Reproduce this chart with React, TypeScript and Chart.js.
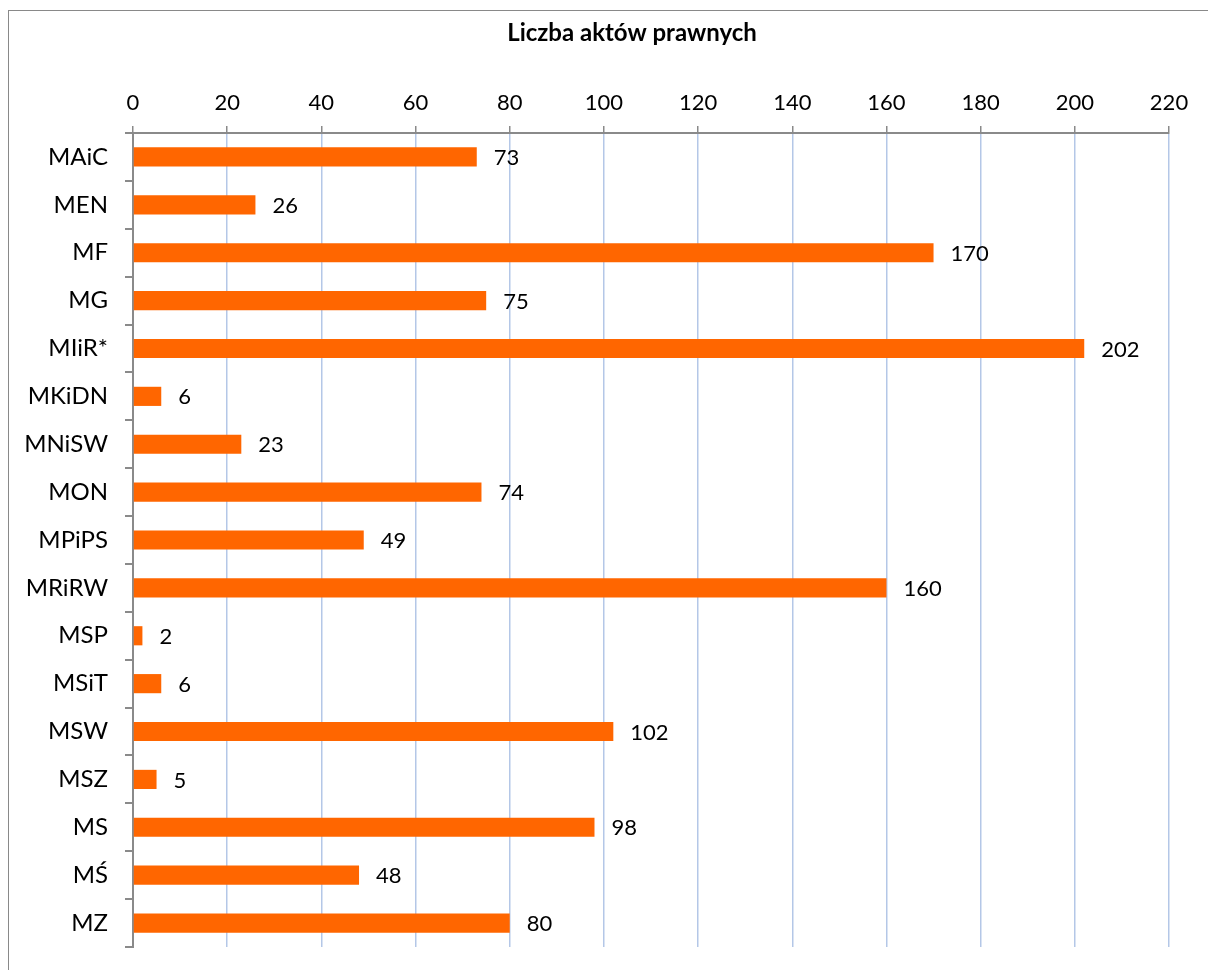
import React, { useEffect, useRef } from "react";
import { Chart, registerables } from "chart.js";

Chart.register(...registerables);

const TITLE = "Liczba aktów prawnych";
const CATEGORIES = ["MAiC", "MEN", "MF", "MG", "MIiR*", "MKiDN", "MNiSW", "MON", "MPiPS", "MRiRW", "MSP", "MSiT", "MSW", "MSZ", "MS", "MŚ", "MZ"];
const VALUES = [73, 26, 170, 75, 202, 6, 23, 74, 49, 160, 2, 6, 102, 5, 98, 48, 80];
const X_MIN = 0;
const X_MAX = 220;
const X_STEP = 20;

const FONT = "Lato";
const BAR_COLOR = "#FF6600";
const GRID_COLOR = "#B4C7E7";
const AXIS_COLOR = "#8A8A8A";

const valueLabels = {
  id: "valueLabels",
  afterDatasetsDraw(chart: any) {
    const ctx = chart.ctx;
    const meta = chart.getDatasetMeta(0);
    ctx.save();
    ctx.font = `22px ${FONT}`;
    ctx.fillStyle = "#000";
    ctx.textAlign = "left";
    ctx.textBaseline = "middle";
    meta.data.forEach((el: any, i: number) => {
      ctx.fillText(String(VALUES[i]), el.x + 17, el.y + 1);
    });
    ctx.restore();
  },
};

const customTitle = {
  id: "customTitle",
  afterDraw(chart: any) {
    const ctx = chart.ctx;
    ctx.save();
    ctx.font = `bold 24px ${FONT}`;
    ctx.fillStyle = "#000";
    ctx.textAlign = "center";
    ctx.textBaseline = "alphabetic";
    ctx.fillText(TITLE, 623, 30);
    ctx.restore();
  },
};

export default function App() {
  const ref = useRef<HTMLCanvasElement>(null);
  useEffect(() => {
    if (!ref.current) return;
    const chart = new Chart(ref.current, {
      type: "bar",
      data: {
        labels: CATEGORIES,
        datasets: [
          {
            data: VALUES,
            backgroundColor: BAR_COLOR,
            barPercentage: 0.4,
            categoryPercentage: 1,
          },
        ],
      },
      options: {
        indexAxis: "y",
        responsive: false,
        animation: false,
        devicePixelRatio: 1,
        layout: { padding: { left: 0, right: 39, top: 0, bottom: 23 } },
        plugins: {
          legend: { display: false },
          title: { display: false },
          tooltip: { enabled: false },
        },
        scales: {
          x: {
            position: "top",
            min: X_MIN,
            max: X_MAX,
            ticks: {
              stepSize: X_STEP,
              color: "#000",
              font: { family: FONT, size: 22 },
              padding: 10,
            },
            grid: {
              color: (c: any) => (c.tick && c.tick.value === 0 ? AXIS_COLOR : GRID_COLOR),
              lineWidth: 1.5,
              tickColor: AXIS_COLOR,
              tickLength: 7,
            },
            border: { color: AXIS_COLOR, width: 2 },
            afterFit: (s: any) => {
              s.height = 122;
            },
          },
          y: {
            ticks: {
              color: "#000",
              font: { family: FONT, size: 24 },
              padding: 17,
            },
            grid: {
              offset: true,
              drawOnChartArea: false,
              tickColor: AXIS_COLOR,
              tickLength: 8,
              lineWidth: 2,
            },
            border: { color: AXIS_COLOR, width: 2 },
            afterFit: (s: any) => {
              s.width = 124;
              s.paddingTop = 0;
              s.paddingBottom = 0;
            },
          },
        },
      },
      plugins: [valueLabels, customTitle],
    });
    return () => chart.destroy();
  }, []);

  return (
    <div
      style={{
        position: "fixed",
        left: 8,
        top: 10,
        width: 1230,
        height: 990,
        border: "1px solid #898989",
        boxSizing: "border-box",
        background: "#fff",
        overflow: "hidden",
      }}
    >
      <canvas ref={ref} width={1199} height={959} style={{ display: "block" }} />
    </div>
  );
}
